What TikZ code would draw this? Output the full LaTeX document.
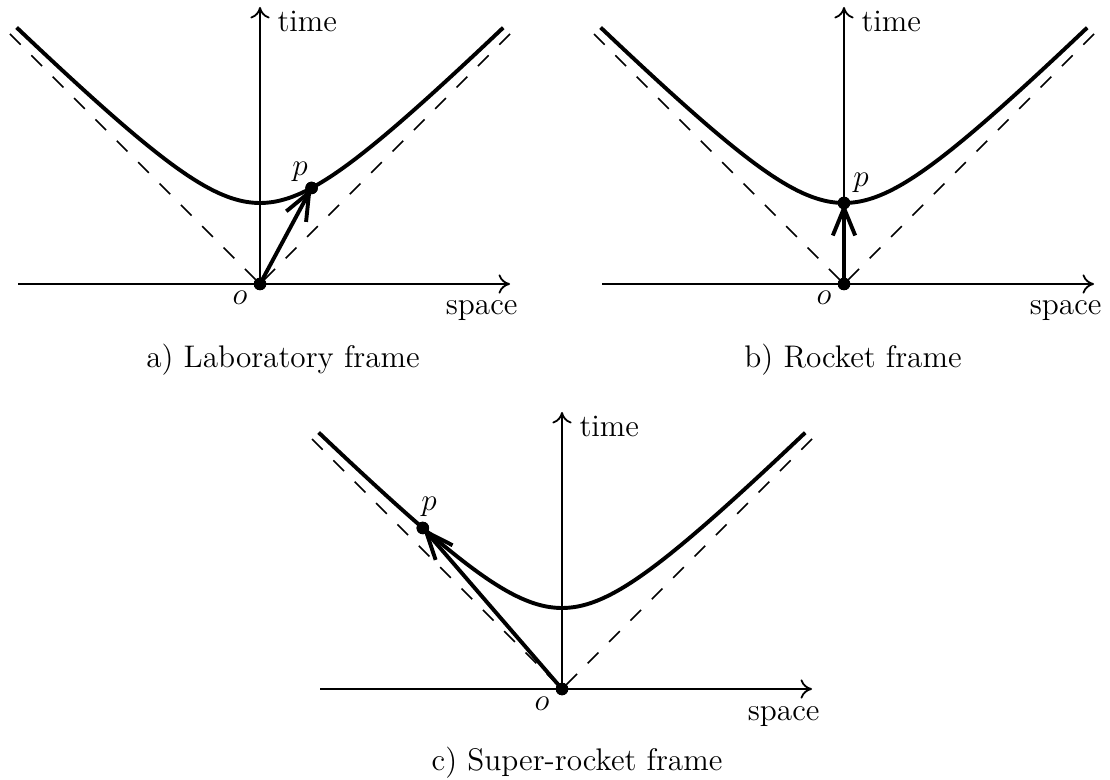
\documentclass[tikz,border=0pt]{standalone}
\usetikzlibrary{arrows.meta}
\tikzset{
  axis/.style={line width=0.7pt,-{To[length=4.4pt,width=7.4pt]}},
  lightcone/.style={line width=0.6pt,dash pattern=on 5.8pt off 5.8pt},
  hyper/.style={line width=1.5pt},
  vec/.style={line width=1.5pt,-{Straight Barb[length=10.5pt,width=8.6pt]}},
  dot/.style={circle,fill=black,inner sep=0pt,minimum size=4.8pt},
  lbl/.style={inner sep=0pt},
  captext/.style={inner sep=0pt,anchor=base},
}
\newcommand{\spacetime}[1]{%
  \draw[lightcone] (-250,-250) -- (0,0);
  \draw[lightcone] (250,-250) -- (0,0);
  \draw[hyper] plot[smooth,domain=-1.82:1.82,samples=61] ({81*sinh(\x)},{-81*cosh(\x)});
  \coordinate (hl#1) at (-242,0);
  \coordinate (hr#1) at (250,0);
  \coordinate (vt#1) at (0,-277);
  \draw[axis] (hl#1) -- (hr#1);
  \draw[axis] (0,0) -- (vt#1);
  \node[lbl,anchor=base west] (time#1) at (17,-252) {time};
  \node[lbl,anchor=base east] (space#1) at (258,31) {space};
  \node[lbl,anchor=base] (olbl#1) at (-20,21) {$o$};
}
\begin{document}
\begin{tikzpicture}[x=0.384pt,y=-0.384pt,font=\fontsize{12}{14}\selectfont]
\useasboundingbox (0,0) rectangle (1110,780);
% a) Laboratory frame
\begin{scope}[shift={(260,284)}]
  \spacetime{a}
  \node[dot] (oa) at (0,0) {};
  \node[dot] (pa) at ({81*sinh(0.6)},{-81*cosh(0.6)}) {};
  \draw[vec] (oa.center) -- (pa.center);
  \node[dot] at (pa) {};
  \node[dot] at (oa) {};
  \node[lbl,anchor=base] (plbla) at (40,-108) {$p$};
\end{scope}
\node[captext] (capa) at (283,368) {a) Laboratory frame};
% b) Rocket frame
\begin{scope}[shift={(844,284)}]
  \spacetime{b}
  \node[dot] (ob) at (0,0) {};
  \node[dot] (pb) at (0,-81) {};
  \draw[vec] (ob.center) -- (pb.center);
  \node[dot] at (pb) {};
  \node[dot] at (ob) {};
  \node[lbl,anchor=base] (plblb) at (17,-97) {$p$};
\end{scope}
\node[captext] (capb) at (853,368) {b) Rocket frame};
% c) Super-rocket frame
\begin{scope}[shift={(562,689)}]
  \spacetime{c}
  \node[dot] (oc) at (0,0) {};
  \node[dot] (pc) at ({81*sinh(-1.31)},{-81*cosh(1.31)}) {};
  \draw[vec] (oc.center) -- (pc.center);
  \node[dot] at (pc) {};
  \node[dot] at (oc) {};
  \node[lbl,anchor=base] (plblc) at (-133,-178) {$p$};
\end{scope}
\node[captext] (capc) at (577,770) {c) Super-rocket frame};
\end{tikzpicture}
\end{document}
